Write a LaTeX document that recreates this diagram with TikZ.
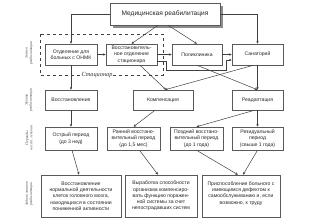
\documentclass[tikz,border=0pt]{standalone}
\usepackage{fontspec}
\setmainfont{Liberation Sans}
\newfontfamily\lblfont{Liberation Serif}
\usetikzlibrary{arrows.meta}

\begin{document}
\begin{tikzpicture}[x=1pt,y=-1pt,
  box/.style={draw=black!65,fill=white,align=center,inner sep=1pt,line width=0.5pt,
    font=\fontsize{5.1}{6.3}\selectfont,text=black!85},
  arr/.style={-{Stealth[length=2.8pt,width=2.4pt]},draw=black!75,line width=0.5pt},
  side/.style={rotate=90,align=center,inner sep=0pt,
    font=\lblfont\itshape\fontsize{3.8}{4.3}\selectfont,text=black!70}]
\useasboundingbox (0,0) rectangle (309,223);
% top
\fill[black!45] (113,6) rectangle (223,28);
\node[box,minimum width=110pt,minimum height=22pt,font=\fontsize{6.6}{7.5}\selectfont]
  (med) at (165,14) {Медицинская реабилитация};
% stationary group
\draw[dashed,black!75,line width=0.6pt] (40,34) rectangle (163,75);
\node[fill=white,inner sep=1pt,font=\lblfont\itshape\fontsize{6.3}{7}\selectfont,text=black!80]
  (stat) at (97,75) {Стационар};
\node[box,minimum width=52pt,minimum height=21pt] (onmk) at (71,54.5)
  {Отделение для\\больных с ОНМК};
\node[box,minimum width=51pt,minimum height=21pt] (vosst) at (131.5,54.5)
  {Восстановитель-\\ное отделение\\стационара};
\node[box,minimum width=50pt,minimum height=21pt] (polik) at (197,54.5) {Поликлиника};
\node[box,minimum width=51pt,minimum height=21pt] (sanat) at (257.5,54.5) {Санаторий};
% levels
\node[box,minimum width=52pt,minimum height=20pt] (vosstan) at (71,100) {Восстановление};
\node[box,minimum width=60pt,minimum height=20pt] (komp) at (163,100) {Компенсация};
\node[box,minimum width=51pt,minimum height=20pt] (readapt) at (257.5,100) {Реадаптация};
% periods
\node[box,minimum width=52pt,minimum height=23pt] (ostr) at (71,138.5)
  {Острый период\\(до 3 нед)};
\node[box,minimum width=53pt,minimum height=23pt] (ranni) at (133.5,138.5)
  {Ранний восстано-\\вительный период\\(до 1,5 мес)};
\node[box,minimum width=53pt,minimum height=23pt] (pozd) at (196.5,138.5)
  {Поздний восстано-\\вительный период\\(до 1 года)};
\node[box,minimum width=51pt,minimum height=23pt] (resid) at (257.5,138.5)
  {Резидуальный\\период\\(свыше 1 года)};
% tasks
\node[box,minimum width=80pt,minimum height=42pt] (zad1) at (81,196)
  {Восстановление\\нормальной деятельности\\клеток головного мозга,\\находящихся в состоянии\\пониженной активности};
\node[box,minimum width=72pt,minimum height=42pt] (zad2) at (161,196)
  {Выработка способности\\организма компенсиро-\\вать функцию поражен-\\ной системы за счет\\непострадавших систем};
\node[box,minimum width=78pt,minimum height=42pt] (zad3) at (241,196)
  {Приспособление больного с\\имеющимся дефектом к\\самообслуживанию и, если\\возможно, к труду\\\mbox{}};
% side labels
\node[side] (s1) at (29,53) {Звенья\\реабилитации};
\node[side] (s2) at (29,100) {Уровни\\реабилитации};
\node[side] (s3) at (29,138) {Периоды\\восст. лечения};
\node[side] (s4) at (29,194) {Задачи этапов\\реабилитации};
% connectors
\draw[arr] (med.west) -| (onmk.north);
\draw[arr] ([xshift=-7pt]med.south) -- (vosst.north);
\draw[arr] ([xshift=3pt]med.south) -- (polik.north);
\draw[arr] (med.east) -| (sanat.north);
\draw[arr] (onmk) -- (vosst);
\draw[arr] (vosst) -- (polik);
\draw[arr] (polik) -- (sanat);
\coordinate (v1) at ([yshift=-7pt]vosst.east);
\coordinate (v2) at (166,70);
\coordinate (v3) at (226,70);
\draw[arr] (v1) -| (v2) -- (v3) |- ([yshift=-5.5pt]sanat.west);
\draw[arr] (onmk) -- (vosstan);
\draw[arr] ([xshift=8.5pt]vosst.south) -- ([xshift=3pt]komp.north);
\draw[arr] (polik.south) -- (readapt.north);
\draw[arr] ([xshift=-4pt]sanat.south) -- ([xshift=2pt]komp.north);
\draw[arr] (sanat) -- (readapt);
\draw[arr] (vosstan) -- (ostr);
\draw[arr] ([xshift=-8pt]komp.south) -- (ranni.north);
\draw[arr] ([xshift=-3pt]readapt.south) -- (pozd.north);
\draw[arr] (readapt) -- (resid);
\draw[arr] ([xshift=1pt]ostr.south) -- ([xshift=-2pt]zad1.north);
\draw[arr] ([xshift=6pt]ranni.south) -- ([xshift=-3pt]zad2.north);
\draw[arr] (pozd.south) -- ([xshift=-3pt]zad3.north);
\draw[arr] (resid.south) -- ([xshift=2pt]zad3.north);
\end{tikzpicture}
\end{document}
